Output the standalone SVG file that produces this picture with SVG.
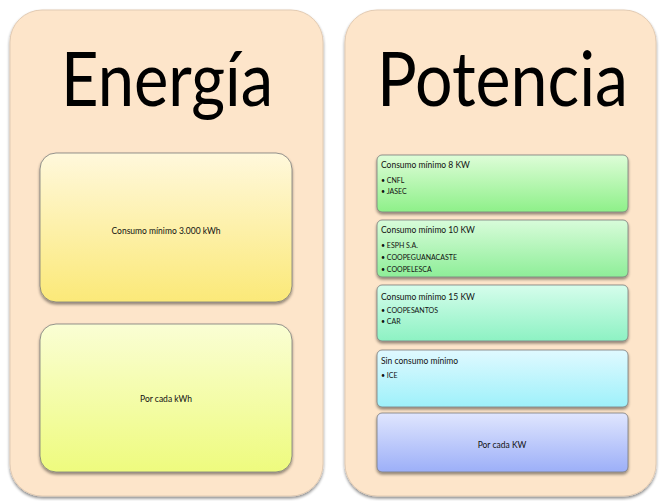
<svg xmlns="http://www.w3.org/2000/svg" width="660" height="501" viewBox="0 0 660 501">
<defs>
<filter id="sh" x="-10%" y="-10%" width="120%" height="130%">
<feGaussianBlur in="SourceAlpha" stdDeviation="1.5"/>
<feOffset dx="0" dy="2" result="b"/>
<feComponentTransfer><feFuncA type="linear" slope="0.45"/></feComponentTransfer>
<feMerge><feMergeNode/><feMergeNode in="SourceGraphic"/></feMerge>
</filter>
<linearGradient id="gY1" x1="0" y1="0" x2="0" y2="1"><stop offset="0" stop-color="#FFF8DC"/><stop offset="1" stop-color="#FBE978"/></linearGradient>
<linearGradient id="gY2" x1="0" y1="0" x2="0" y2="1"><stop offset="0" stop-color="#FAFED4"/><stop offset="1" stop-color="#EEFB7E"/></linearGradient>
<linearGradient id="gG1" x1="0" y1="0" x2="0" y2="1"><stop offset="0" stop-color="#DEFDD8"/><stop offset="1" stop-color="#8EF089"/></linearGradient>
<linearGradient id="gG2" x1="0" y1="0" x2="0" y2="1"><stop offset="0" stop-color="#D8FCDA"/><stop offset="1" stop-color="#8EEE98"/></linearGradient>
<linearGradient id="gM" x1="0" y1="0" x2="0" y2="1"><stop offset="0" stop-color="#D6FDEC"/><stop offset="1" stop-color="#8DF2C3"/></linearGradient>
<linearGradient id="gC" x1="0" y1="0" x2="0" y2="1"><stop offset="0" stop-color="#E0F9FF"/><stop offset="1" stop-color="#9EF1FA"/></linearGradient>
<linearGradient id="gB" x1="0" y1="0" x2="0" y2="1"><stop offset="0" stop-color="#E0E6FE"/><stop offset="1" stop-color="#9CAFF8"/></linearGradient>
</defs>
<style>
.panel{fill:#FDE5CA;stroke:#E2CBB3;stroke-width:1}
.box{stroke:#7A7A7A;stroke-width:0.8}
.title{font-family:Lato,"Liberation Sans",sans-serif;font-size:75px;fill:#000}
.t{font-family:Lato,"Liberation Sans",sans-serif;font-size:8.5px;fill:#111}
.b{font-family:Lato,"Liberation Sans",sans-serif;font-size:7px;fill:#111}
</style>
<rect width="660" height="501" fill="#fff"/>
<g id="energia">
<rect class="panel" x="10" y="10" width="313" height="486" rx="32" filter="url(#sh)"/>
<text class="title" x="61" y="106" textLength="212" lengthAdjust="spacingAndGlyphs">Energía</text>
</g>
<g id="potencia">
<rect class="panel" x="345" y="10" width="311" height="486" rx="32" filter="url(#sh)"/>
<text class="title" x="377" y="106" textLength="251" lengthAdjust="spacingAndGlyphs">Potencia</text>
</g>
<g id="e1">
<rect class="box" x="40" y="153" width="252" height="149" rx="16" fill="url(#gY1)" filter="url(#sh)"/>
<text class="t" x="166" y="234" text-anchor="middle">Consumo mínimo 3.000 kWh</text>
</g>
<g id="e2">
<rect class="box" x="40" y="324" width="252" height="148" rx="16" fill="url(#gY2)" filter="url(#sh)"/>
<text class="t" x="166" y="402" text-anchor="middle">Por cada kWh</text>
</g>
<g id="p1">
<rect class="box" x="377" y="155" width="251" height="57" rx="5" fill="url(#gG1)" filter="url(#sh)"/>
<text class="t" x="381" y="168">Consumo mínimo 8 KW</text>
<text class="b" x="381" y="183">• CNFL</text>
<text class="b" x="381" y="194">• JASEC</text>
</g>
<g id="p2">
<rect class="box" x="377" y="220" width="251" height="57" rx="5" fill="url(#gG2)" filter="url(#sh)"/>
<text class="t" x="381" y="233">Consumo mínimo 10 KW</text>
<text class="b" x="381" y="248">• ESPH S.A.</text>
<text class="b" x="381" y="260">• COOPEGUANACASTE</text>
<text class="b" x="381" y="272">• COOPELESCA</text>
</g>
<g id="p3">
<rect class="box" x="377" y="285" width="251" height="56" rx="5" fill="url(#gM)" filter="url(#sh)"/>
<text class="t" x="381" y="300">Consumo mínimo 15 KW</text>
<text class="b" x="381" y="313">• COOPESANTOS</text>
<text class="b" x="381" y="324">• CAR</text>
</g>
<g id="p4">
<rect class="box" x="377" y="350" width="251" height="57" rx="5" fill="url(#gC)" filter="url(#sh)"/>
<text class="t" x="381" y="364">Sin consumo mínimo</text>
<text class="b" x="381" y="378">• ICE</text>
</g>
<g id="p5">
<rect class="box" x="377" y="413" width="251" height="59" rx="5" fill="url(#gB)" filter="url(#sh)"/>
<text class="t" x="502" y="448" text-anchor="middle">Por cada KW</text>
</g>
<g id="connectors"/>
</svg>
